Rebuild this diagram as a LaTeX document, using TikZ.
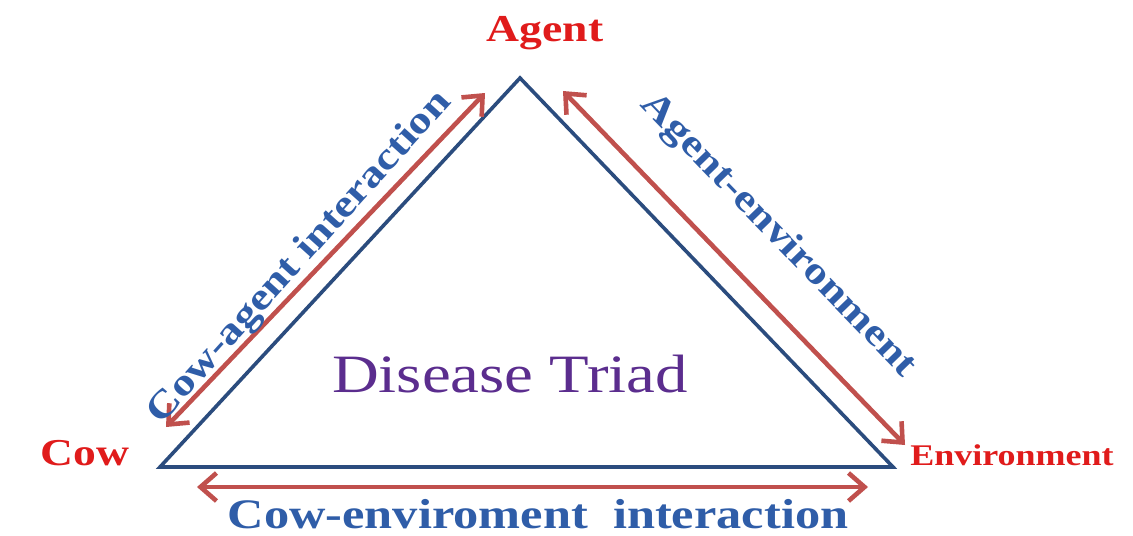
\documentclass[tikz,border=0pt]{standalone}
\usepackage{fontspec}
\setmainfont{Liberation Serif}
\newfontfamily\widefont[FakeStretch=1.2]{Liberation Serif}
\usepackage{tikz}
\usetikzlibrary{positioning, arrows.meta}
\definecolor{triblue}{HTML}{2B4C7E}
\definecolor{arrred}{HTML}{C0504D}
\definecolor{lblred}{HTML}{E01B1B}
\definecolor{lblblue}{HTML}{2F5DA8}
\definecolor{triadpurple}{HTML}{5B2D8E}

\begin{document}
\begin{tikzpicture}[x=0.5pt, y=-0.5pt,
  side/.style={draw=triblue, line width=1.8pt, line join=miter},
  link/.style={draw=arrred, line width=2.3pt, {Straight Barb[length=8pt,width=14pt]}-{Straight Barb[length=8pt,width=14pt]}},
  vertex/.style={text=lblred, font=\widefont\bfseries},
  inter/.style={text=lblblue, inner sep=1pt, font=\widefont\bfseries\fontsize{19}{22}\selectfont}]
\useasboundingbox (0,0) rectangle (1133,535);
% triangle corners
\coordinate (top) at (520,78);
\coordinate (lft) at (160,467);
\coordinate (rgt) at (893,467);
\draw[side] (top) -- (lft) -- (rgt) -- cycle;
% arrow ends
\coordinate (ca1) at (166,427);
\coordinate (ca2) at (485,93);
\coordinate (ae1) at (563,91);
\coordinate (ae2) at (905,445);
\coordinate (ce1) at (197,487);
\coordinate (ce2) at (868,487);
\draw[link] (ca1) -- (ca2);
\draw[link] (ae1) -- (ae2);
\draw[link] (ce1) -- (ce2);
% labels
\node[vertex, font=\widefont\bfseries\fontsize{19}{22}\selectfont] (agent) at (545,33) {Agent};
\node[vertex, font=\widefont\bfseries\fontsize{19}{22}\selectfont] (cow) at (85,453) {Cow};
\node[vertex, font=\widefont\bfseries\fontsize{15}{18}\selectfont] (env) at (1012,455) {Environment};
\node[inter, rotate=48] (cowagent) at (300,258) {Cow-agent interaction};
\node[inter, rotate=-46] (agentenv) at (778,236) {Agent-environment};
\node[inter, font=\widefont\bfseries\fontsize{21}{24}\selectfont] (cowenv) at (538,514) {Cow-enviroment\ \ interaction};
\node[text=triadpurple, font=\widefont\fontsize{27}{32}\selectfont] (triad) at (510,374) {Disease Triad};
\end{tikzpicture}
\end{document}
